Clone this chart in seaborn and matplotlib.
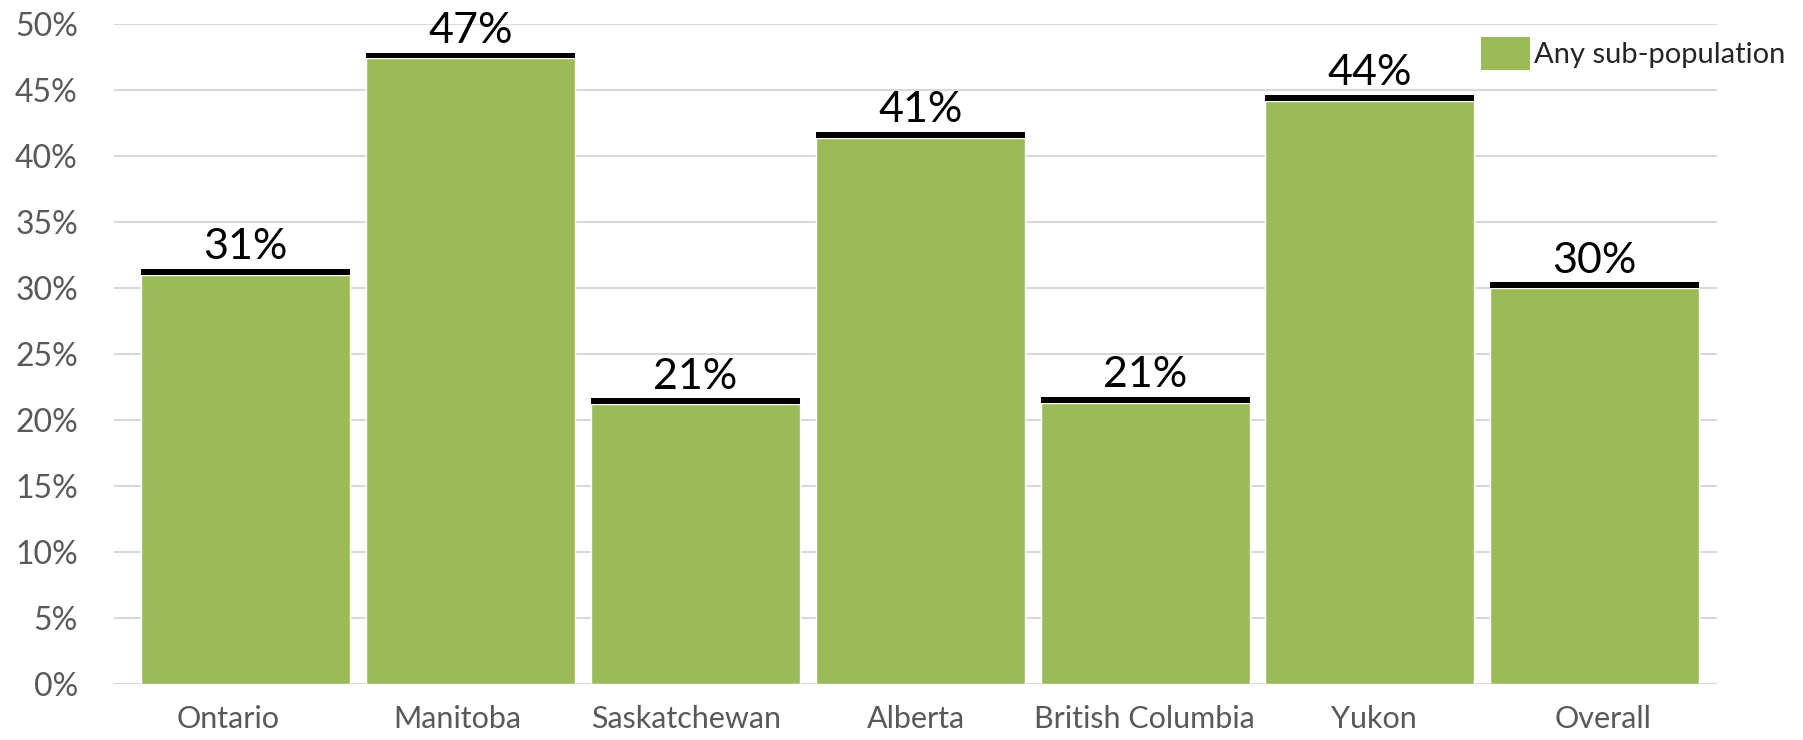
import matplotlib
matplotlib.use("Agg")
import matplotlib.pyplot as plt
from matplotlib.patches import Patch
from matplotlib.ticker import PercentFormatter
import numpy as np
import pandas as pd
import seaborn as sns

# Share of respondents in any sub-population, by jurisdiction
regions = ["Ontario", "Manitoba", "Saskatchewan", "Alberta",
           "British Columbia", "Yukon", "Overall"]
shares = [0.310, 0.474, 0.212, 0.414, 0.213, 0.442, 0.300]
series_name = "Any sub-population"
y_ticks = [0.00, 0.05, 0.10, 0.15, 0.20, 0.25, 0.30, 0.35, 0.40, 0.45, 0.50]

BAR_GREEN = "#9BBB59"
GRID_GREY = "#D9D9D9"
TICK_GREY = "#595959"
CAP_HEIGHT = 0.0043
BAR_WIDTH = 0.93

sns.set_theme(style="white")
plt.rcParams["font.family"] = ["Lato", "DejaVu Sans"]

fig = plt.figure(figsize=(18.03, 7.4), dpi=100)
ax = fig.add_axes([114 / 1803, 1 - 684 / 740, (1717 - 114) / 1803, (684 - 24) / 740])

df = pd.DataFrame({"region": regions, "share": shares})
sns.barplot(data=df, x="region", y="share", color=BAR_GREEN, saturation=1,
            width=BAR_WIDTH, ax=ax, zorder=2, errorbar=None)

# thin black cap sitting on top of each bar
xs = np.arange(len(regions))
ax.bar(xs, [CAP_HEIGHT] * len(regions), bottom=shares, width=BAR_WIDTH,
       color="black", zorder=3, linewidth=0)

for x, v in zip(xs, shares):
    ax.annotate(f"{v:.0%}", (x, v + CAP_HEIGHT), xytext=(0, 7),
                textcoords="offset points", ha="center", va="baseline",
                fontsize=31, color="black")

ax.set_xlim(-0.586, 6.544)
ax.set_ylim(0, 0.5)
ax.set_yticks(y_ticks)
ax.yaxis.set_major_formatter(PercentFormatter(1.0, decimals=0))
# category labels are spread evenly across the full plot width
ax.set_xticks(-0.077 + 1.0187 * xs, labels=regions)

ax.yaxis.grid(True, color=GRID_GREY, linewidth=1.5)
ax.set_axisbelow(True)
ax.set_xlabel("")
ax.set_ylabel("")
for s in ax.spines.values():
    s.set_visible(False)

ax.tick_params(axis="y", length=0, labelsize=23, labelcolor=TICK_GREY, pad=26)
ax.tick_params(axis="x", length=0, labelsize=22, labelcolor=TICK_GREY, pad=15)

if ax.get_legend() is not None:
    ax.get_legend().remove()
fig.legend(handles=[Patch(facecolor=BAR_GREEN, edgecolor="none")],
           labels=[series_name], loc="upper left",
           bbox_to_anchor=(1481 / 1803, 1 - 37 / 740), frameon=False,
           fontsize=21, handlelength=1.69, handleheight=1.38,
           handletextpad=0.14, borderpad=0, borderaxespad=0)

fig.savefig("out.png", dpi=100)
